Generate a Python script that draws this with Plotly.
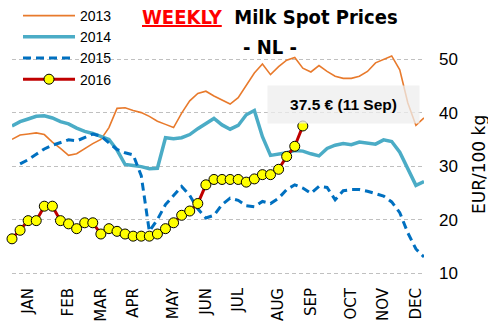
import plotly.graph_objects as go

weeks = list(range(1, 53))

y2013 = [35.0, 35.8, 36.0, 36.2, 35.9, 34.5, 33.3, 32.0, 32.3, 33.3,
         34.2, 35.0, 37.2, 40.8, 40.9, 40.4, 40.0, 39.3, 38.4, 37.8,
         37.2, 39.9, 42.2, 43.6, 44.0, 43.1, 42.3, 41.6, 42.8, 45.0,
         47.4, 49.1, 47.1, 48.6, 49.8, 50.3, 48.3, 47.6, 48.8, 47.7,
         46.8, 46.4, 46.4, 46.8, 47.7, 49.3, 50.0, 50.6, 48.0, 41.8,
         37.6, 39.0]

y2014 = [37.5, 38.3, 38.8, 39.3, 39.4, 39.0, 38.3, 37.9, 37.1, 36.5,
         36.1, 35.6, 35.0, 33.0, 30.3, 30.1, 29.9, 29.5, 29.6, 35.3,
         35.1, 35.3, 35.9, 37.0, 38.0, 38.9, 37.7, 36.9, 37.6, 39.6,
         40.4, 35.5, 32.0, 32.2, 32.5, 32.9, 32.8, 32.3, 31.9, 33.3,
         33.9, 34.2, 34.0, 34.5, 34.3, 34.1, 34.9, 34.6, 32.6, 29.6,
         26.4, 27.1]

y2015 = [None, 30.4, 31.2, 32.2, 33.2, 33.9, 34.4, 34.9, 34.7, 35.3,
         36.0, 35.6, 34.4, 33.1, 32.5, 32.1, 28.2, 17.8, 20.0, 22.8,
         24.5, 26.2, 24.5, 22.0, 20.3, 20.8, 22.8, 24.0, 23.6, 22.6,
         22.4, 23.4, 23.0, 24.0, 25.6, 26.5, 25.9, 24.9, 26.2, 26.0,
         23.7, 25.4, 25.6, 25.6, 25.3, 24.9, 24.4, 23.3, 21.3, 17.5,
         14.5, 13.0]

y2016 = [16.4, 18.0, 19.8, 19.8, 22.5, 22.5, 19.8, 19.2, 18.3, 19.4,
         19.4, 17.3, 18.3, 17.8, 17.3, 16.9, 16.9, 16.9, 17.3, 18.3,
         19.4, 20.8, 21.6, 23.0, 26.5, 27.5, 27.5, 27.5, 27.5, 27.0,
         27.6, 28.4, 28.4, 29.4, 31.8, 33.7, 37.5]

month_pos = [3, 8, 12, 16, 21, 25, 29, 34, 38, 43, 47, 51]
month_labels = ["JAN", "FEB", "MAR", "APR", "MAY", "JUN", "JUL", "AUG",
                "SEP", "OCT", "NOV", "DEC"]

last_label = "37.5 € (11 Sep)"
y_title = "EUR/100 kg"

SANS = "Liberation Sans, Arial, sans-serif"
COND = "DejaVu Sans Condensed, Liberation Sans, sans-serif"

# plot area in pixels: left 12, right 424, top 11, bottom 280
def px_x(p):
    return (p - 12) / 412

def px_y(p):
    return (280 - p) / 269

fig = go.Figure()
fig.add_trace(go.Scatter(x=weeks, y=y2013, name="2013", mode="lines",
                         line=dict(color="#E87A2C", width=1.6)))
fig.add_trace(go.Scatter(x=weeks, y=y2014, name="2014", mode="lines",
                         line=dict(color="#4BACC6", width=3.5)))
fig.add_trace(go.Scatter(x=weeks, y=y2015, name="2015", mode="lines",
                         line=dict(color="#0070C0", width=3, dash="8px,5px")))
fig.add_trace(go.Scatter(x=weeks[:len(y2016)], y=y2016, name="2016",
                         mode="lines+markers", cliponaxis=False,
                         line=dict(color="#C00000", width=3),
                         marker=dict(size=10, color="#FFFF00",
                                     line=dict(color="#000000", width=1))))

fig.add_annotation(x=42, y=41.5, xref="x", yref="y",
                   text="<b>" + last_label + "</b>", showarrow=False,
                   font=dict(family=SANS, size=15.5, color="#000000"),
                   bgcolor="rgba(238,238,238,0.75)", width=149, height=35,
                   borderpad=1)

fig.add_annotation(x=px_x(270), y=px_y(17), xref="paper", yref="paper",
                   xanchor="center", yanchor="middle",
                   text="<b><span style='color:#FF0000'><u>WEEKLY</u></span>&nbsp; Milk Spot Prices</b>",
                   showarrow=False, font=dict(family=COND, size=20, color="#000000"))
fig.add_annotation(x=px_x(270), y=px_y(47), xref="paper", yref="paper",
                   xanchor="center", yanchor="middle",
                   text="<b>- NL -</b>", showarrow=False,
                   font=dict(family=COND, size=20, color="#000000"))
fig.add_annotation(x=px_x(479), y=px_y(165), xref="paper", yref="paper",
                   xanchor="center", yanchor="middle", textangle=-90,
                   text=y_title, showarrow=False,
                   font=dict(family="DejaVu Sans", size=17, color="#000000"))

fig.update_layout(
    width=488, height=330,
    margin=dict(l=12, r=64, t=11, b=50, autoexpand=False),
    paper_bgcolor="white", plot_bgcolor="white",
    showlegend=True,
    legend=dict(x=18 / 488, y=1.0, xref="container", yref="container",
                xanchor="left", yanchor="top", itemwidth=52,
                bgcolor="rgba(0,0,0,0)",
                font=dict(family=SANS, size=14, color="#000000"),
                tracegroupgap=0),
    xaxis=dict(range=[1, 52], tickmode="array", tickvals=month_pos,
               ticktext=month_labels, tickangle=-90, showgrid=False,
               zeroline=False, showline=False, ticks="",
               tickfont=dict(family="DejaVu Sans", size=15, color="#000000"),
               ticklabelstandoff=4),
    yaxis=dict(side="right", range=[8.7, 59], tick0=10, dtick=10,
               showgrid=True, gridcolor="#C0C0C0", gridwidth=1.3,
               griddash="4px,3px", zeroline=False, showline=False, ticks="",
               tickfont=dict(family=SANS, size=17, color="#000000"),
               ticklabelstandoff=14),
)

fig.write_html("out.html")
